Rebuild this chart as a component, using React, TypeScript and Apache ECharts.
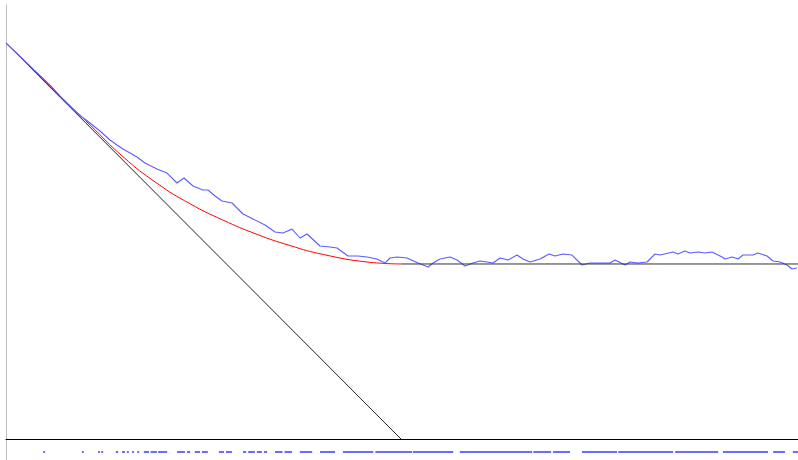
import React, { useEffect, useRef } from "react";
import * as echarts from "echarts";

// Time axis 0..200, value axis: 0 at the baseline, 100 at the start.
const X_MAX = 200.5;
const Y_MIN = -5.3;
const Y_MAX = 109.6;

// Deterministic fluid limit (straight drain), ends at zero at t=100
const drainLine: [number, number][] = [
  [0, 100],
  [100, 0],
];

// Red smooth curve (mean trajectory)
const meanCurve: [number, number][] = [
  [0, 100], [8.6, 91.7], [14.4, 85.9], [21.3, 79.3], [29.6, 71.3], [38.2, 64.6],
  [46.6, 59.4], [54.9, 55.3], [63.5, 51.7], [71.9, 48.85], [80.3, 46.6], [91.4, 44.7],
  [100, 44.2],
];

// Equilibrium level
const equilibriumLevel = 44.2;
const equilibriumStart = 100;

// Simulated path (blue)
const simPath: [number, number][] = [
  [0, 100.0], [6.84, 93.44], [11.14, 89.39], [14.43, 85.86], [17.47, 82.83], [19.24, 81.31],
  [21.27, 79.8], [23.8, 77.78], [26.33, 75.51], [28.1, 74.24], [29.62, 73.23], [31.39, 72.22],
  [33.16, 71.21], [35.19, 69.7], [38.23, 68.18], [40.76, 67.17], [43.29, 64.65], [45.06, 65.91],
  [47.34, 63.89], [49.87, 62.88], [51.14, 62.88], [52.91, 61.36], [54.68, 60.1], [57.22, 59.6],
  [60.0, 56.82], [62.53, 55.56], [65.57, 54.04], [68.1, 52.27], [70.13, 52.02], [72.41, 53.03],
  [74.43, 50.76], [76.2, 51.77], [79.49, 48.74], [82.03, 48.49], [83.8, 48.23], [86.58, 46.21],
  [89.11, 46.21], [91.39, 45.96], [93.92, 45.45], [95.95, 44.44], [97.22, 45.71], [98.99, 45.96],
  [101.52, 45.71], [104.3, 44.44], [106.84, 43.43], [108.1, 44.44], [109.87, 45.45], [112.41, 45.96],
  [114.18, 45.2], [116.2, 43.69], [118.23, 44.44], [120.0, 44.95], [121.77, 44.7], [123.29, 44.44],
  [125.06, 45.71], [127.09, 45.2], [129.37, 46.46], [130.89, 45.45], [132.66, 44.7], [135.19, 45.45],
  [137.47, 46.72], [138.99, 46.21], [141.01, 46.72], [143.29, 46.46], [145.82, 43.94], [147.85, 44.44],
  [150.38, 44.44], [152.91, 44.44], [154.18, 45.2], [156.71, 43.94], [157.97, 44.7], [160.0, 44.44],
  [162.28, 44.7], [164.3, 46.72], [165.57, 46.46], [168.86, 47.22], [170.13, 46.72], [171.9, 47.47],
  [173.16, 46.97], [175.19, 47.22], [176.96, 46.97], [178.73, 47.22], [181.27, 45.96], [182.03, 45.45],
  [183.8, 45.96], [185.32, 45.45], [186.58, 46.46], [189.11, 46.46], [190.38, 46.97], [192.66, 46.21],
  [194.18, 44.95], [195.95, 44.7], [197.72, 43.94], [198.99, 42.93], [200.25, 43.18],
];

// Event rug (start/end of marked stretches)
const rugLevel = -3.28;
const rugStarts = [
  9.4, 19.2, 23.3, 24.1, 27.8, 29.4, 30.6, 31.9, 33.2, 34.9, 36.6, 38.5, 43.3, 45.8, 47.8, 49.6,
  53.9, 55.7, 60.0, 61.3, 63.5, 65.3, 68.1, 70.5, 74.4, 79.5, 85.3, 93.5, 103.0, 114.9, 133.5,
  138.5, 145.8, 155.0, 169.4, 181.5, 194.2, 199.2,
];
const rugEnds = [
  9.9, 19.7, 23.8, 24.6, 28.4, 30.1, 31.1, 32.4, 33.7, 36.2, 38.2, 40.8, 45.3, 46.6, 49.1, 51.1,
  55.2, 57.2, 60.8, 63.0, 64.8, 66.1, 70.0, 72.4, 77.5, 83.3, 93.0, 102.8, 113.2, 133.2, 138.0,
  142.8, 154.7, 168.9, 180.3, 192.9, 197.2, 200.5,
];

export default function App() {
  const ref = useRef<HTMLDivElement>(null);
  useEffect(() => {
    if (!ref.current) return;
    const chart = echarts.init(ref.current, null, { renderer: "svg" });
    const rugData = rugStarts.map((s, i) => ({
      coords: [
        [s, rugLevel],
        [rugEnds[i], rugLevel],
      ],
    }));
    chart.setOption({
      animation: false,
      backgroundColor: "#ffffff",
      grid: { left: 6, right: 0, top: 5, bottom: 0 },
      xAxis: {
        type: "value",
        min: 0,
        max: X_MAX,
        axisLine: { show: true, onZero: true, lineStyle: { color: "#000000", width: 1 } },
        axisTick: { show: false },
        axisLabel: { show: false },
        splitLine: { show: false },
      },
      yAxis: {
        type: "value",
        min: Y_MIN,
        max: Y_MAX,
        axisLine: { show: true, onZero: false, lineStyle: { color: "#bdbdbd", width: 1 } },
        axisTick: { show: false },
        axisLabel: { show: false },
        splitLine: { show: false },
      },
      series: [
        {
          type: "line",
          data: drainLine,
          symbol: "none",
          lineStyle: { color: "#222222", width: 1 },
          z: 1,
        },
        {
          type: "line",
          data: meanCurve,
          symbol: "none",
          smooth: 0.5,
          lineStyle: { color: "#ff0000", width: 1 },
          z: 2,
        },
        {
          type: "line",
          data: simPath,
          symbol: "none",
          lineStyle: { color: "#5c5cff", width: 1.1 },
          z: 3,
        },
        {
          type: "line",
          data: [
            [equilibriumStart, equilibriumLevel],
            [X_MAX, equilibriumLevel],
          ],
          symbol: "none",
          lineStyle: { color: "#333333", width: 1 },
          z: 4,
        },
        {
          type: "lines",
          coordinateSystem: "cartesian2d",
          data: rugData,
          lineStyle: { color: "#6b6bff", width: 2, opacity: 1 },
          z: 5,
        },
      ],
    });
    return () => chart.dispose();
  }, []);
  return <div ref={ref} style={{ width: 798, height: 460, position: "absolute", left: 0, top: 0 }} />;
}
